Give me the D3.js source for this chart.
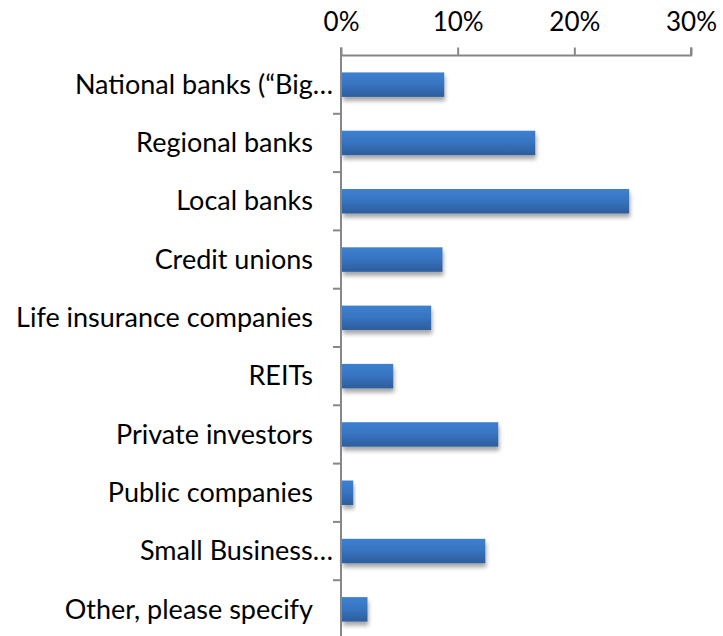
<!DOCTYPE html>
<html>
<head>
<meta charset="utf-8">
<script src="https://cdn.jsdelivr.net/npm/d3@7"></script>
<style>
  body { margin: 0; background: #fff; }
  svg text { font-family: Lato, "Open Sans", sans-serif; fill: #000; }
</style>
</head>
<body>
<svg id="chart" width="723" height="636"></svg>
<script>
"use strict";

// categories as shown (Excel truncated two of them)
const categories = [
  "National banks (\u201cBig\u2026",
  "Regional banks",
  "Local banks",
  "Credit unions",
  "Life insurance companies",
  "REITs",
  "Private investors",
  "Public companies",
  "Small Business\u2026",
  "Other, please specify"
];
const truncated = [true, false, false, false, false, false, false, false, true, false];
const values = [8.85, 16.65, 24.7, 8.7, 7.73, 4.48, 13.48, 1.05, 12.37, 2.27];
const tickValues = [0, 10, 20, 30];

const plotLeft = 341, plotRight = 691, plotTop = 55.5, band = 58.3;
const fontSize = 27;

const svg = d3.select("#chart");

const x = d3.scaleLinear().domain([0, 30]).range([plotLeft, plotRight]);
const y = d3.scaleBand()
  .domain(categories)
  .range([plotTop, plotTop + band * categories.length])
  .paddingInner(0.58)
  .paddingOuter(0.29);

// gradient + shadow for the bars
const defs = svg.append("defs");
const grad = defs.append("linearGradient")
  .attr("id", "barGrad").attr("x1", 0).attr("y1", 0).attr("x2", 0).attr("y2", 1);
grad.append("stop").attr("offset", "0%").attr("stop-color", "#3d80d0");
grad.append("stop").attr("offset", "45%").attr("stop-color", "#3875c2");
grad.append("stop").attr("offset", "100%").attr("stop-color", "#2d5d9c");

const shadow = defs.append("filter").attr("id", "shadow")
  .attr("x", "-10%").attr("y", "-20%").attr("width", "130%").attr("height", "180%");
shadow.append("feGaussianBlur").attr("in", "SourceAlpha").attr("stdDeviation", 2.2);
shadow.append("feOffset").attr("dx", 1).attr("dy", 3.5).attr("result", "blur");
shadow.append("feComponentTransfer").append("feFuncA").attr("type", "linear").attr("slope", 0.35);
const merge = shadow.append("feMerge");
merge.append("feMergeNode");
merge.append("feMergeNode").attr("in", "SourceGraphic");

// bars
svg.append("g").selectAll("rect")
  .data(values)
  .enter()
  .append("rect")
  .attr("x", x(0) + 1)
  .attr("y", (d, i) => y(categories[i]))
  .attr("width", (d) => x(d) - x(0) - 1)
  .attr("height", y.bandwidth())
  .attr("fill", "url(#barGrad)")
  .attr("filter", "url(#shadow)");

// top (value) axis
const xAxis = svg.append("g")
  .attr("transform", `translate(0,${plotTop})`)
  .call(d3.axisTop(x).tickValues(tickValues).tickSize(8).tickPadding(17)
    .tickFormat((d) => d + "%"));
xAxis.select(".domain").attr("stroke", "#878787").attr("stroke-width", 2)
  .attr("d", `M${plotLeft},-8V0H${plotRight}V-8`);
xAxis.selectAll(".tick line").attr("stroke", "#878787").attr("stroke-width", 2);
xAxis.selectAll(".tick text").style("font-size", "26px")
  .style("font-family", "Lato, sans-serif").attr("fill", "#000");

// category axis: line + ticks between bands
const catAxis = svg.append("g");
catAxis.append("line")
  .attr("x1", plotLeft).attr("x2", plotLeft)
  .attr("y1", plotTop - 1).attr("y2", 636)
  .attr("stroke", "#878787").attr("stroke-width", 2);
catAxis.selectAll("line.tick")
  .data(categories.slice(1))
  .enter()
  .append("line")
  .attr("class", "tick")
  .attr("x1", plotLeft - 8).attr("x2", plotLeft)
  .attr("y1", (d) => y(d) - y.step() * y.paddingInner() / 2)
  .attr("y2", (d) => y(d) - y.step() * y.paddingInner() / 2)
  .attr("stroke", "#878787").attr("stroke-width", 2);

// category labels
svg.append("g").selectAll("text")
  .data(categories)
  .enter()
  .append("text")
  .attr("x", (d, i) => (truncated[i] ? 333 : 313))
  .attr("y", (d) => y(d) + y.bandwidth() / 2)
  .attr("dy", "0.34em")
  .attr("text-anchor", "end")
  .style("font-size", fontSize + "px")
  .text((d) => d);
</script>
</body>
</html>
